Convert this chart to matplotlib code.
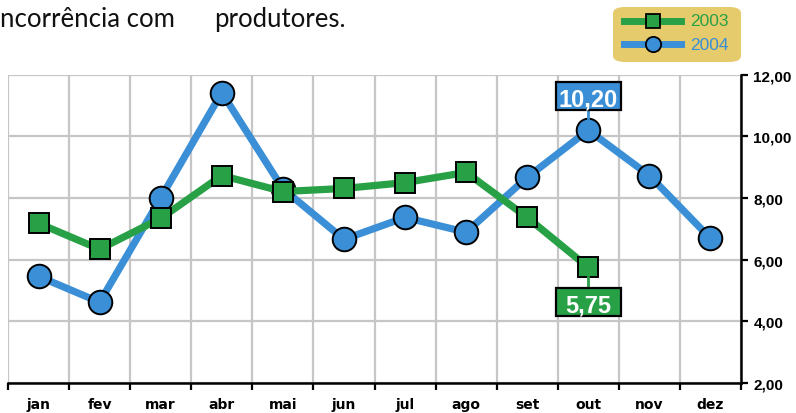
import matplotlib
matplotlib.use("Agg")
import matplotlib.pyplot as plt
import numpy as np
from matplotlib.lines import Line2D
from matplotlib.patches import FancyBboxPatch, Rectangle
from matplotlib.ticker import FixedLocator, FuncFormatter

months = ["jan", "fev", "mar", "abr", "mai", "jun", "jul", "ago", "set", "out", "nov", "dez"]
s2003 = [7.18, 6.34, 7.34, 8.73, 8.21, 8.31, 8.50, 8.83, 7.37, 5.75]
s2004 = [5.46, 4.62, 8.00, 11.42, 8.30, 6.66, 7.37, 6.89, 8.67, 10.20, 8.73, 6.69]
yticks = [2, 4, 6, 8, 10, 12]
labels_series = ["2003", "2004"]

green = "#27a046"
blue = "#3a8fd6"
grid_c = "#c6c6c6"

W, H = 796, 414
fig = plt.figure(figsize=(W/100, H/100), dpi=100)
ax = fig.add_axes([8/W, 1-384/H, (741-8)/W, (384-75.7)/H])

x03 = np.arange(len(s2003))
x04 = np.arange(len(s2004))

ax.plot(x04, s2004, color=blue, lw=5.2, marker="o", ms=17, mfc=blue, mec="black", mew=1.4, zorder=3,
        solid_joinstyle="miter")
ax.plot(x03, s2003, color=green, lw=5.2, marker="s", ms=14, mfc=green, mec="black", mew=1.4, zorder=4,
        solid_joinstyle="miter")

ax.set_xlim(-0.5, 11.5)
ax.set_ylim(2, 12)

# grid
ax.xaxis.set_major_locator(FixedLocator(list(range(12))))
ax.xaxis.set_minor_locator(FixedLocator([i - 0.5 for i in range(13)]))
ax.set_xticklabels(months, fontsize=10, fontweight="bold", family="DejaVu Sans")
ax.tick_params(axis="x", which="major", length=0, pad=10)
ax.tick_params(axis="x", which="minor", length=5, width=1.6, direction="out", color="black")
ax.grid(True, which="minor", axis="x", color=grid_c, lw=1.6, zorder=0)
ax.set_yticks(yticks)
ax.yaxis.set_major_formatter(FuncFormatter(lambda v, p: f"{v:.2f}".replace(".", ",")))
ax.yaxis.tick_right()
ax.tick_params(axis="y", which="major", length=5, width=1.6, direction="out", labelsize=11, pad=4)
for t in ax.get_yticklabels():
    t.set_fontweight("bold")
    t.set_family("Liberation Sans")
ax.grid(True, which="major", axis="y", color=grid_c, lw=1.6, zorder=0)
ax.set_axisbelow(True)

for s in ["top", "left"]:
    ax.spines[s].set_visible(False)
for s in ["bottom", "right"]:
    ax.spines[s].set_linewidth(1.8)
    ax.spines[s].set_color("black")

# value labels in fixed-size boxes
def value_box(xv, yv, col, dy, marker_r):
    px, py = ax.transData.transform((xv, yv))
    bw, bh = 65, 28
    cx, cy = px, py + dy
    if dy > 0:
        y0, y1 = py + marker_r, cy - bh / 2
    else:
        y0, y1 = py - marker_r, cy + bh / 2
    fig.add_artist(Line2D([cx / W, cx / W], [y0 / H, y1 / H], transform=fig.transFigure,
                          color=col, lw=2, zorder=5))
    fig.add_artist(Rectangle(((cx - bw / 2) / W, (cy - bh / 2) / H), bw / W, bh / H,
                             transform=fig.transFigure, fc=col, ec="black", lw=1.6, zorder=6))
    fig.text(cx / W, cy / H, f"{yv:.2f}".replace(".", ","), fontsize=17, fontweight="bold",
             color="white", family="Liberation Sans", ha="center", va="center_baseline", zorder=7)

value_box(9, s2004[9], blue, 34, 12)
value_box(9, s2003[9], green, -35, 10)

# header text
fig.text(0/W, 1-27/H, "ncorrência com", fontsize=18.5, family="Lato", color="#111111", ha="left", va="baseline")
fig.text(214/W, 1-27/H, "produtores.", fontsize=18.5, family="Lato", color="#111111", ha="left", va="baseline")

# legend
box = FancyBboxPatch((613/W, 1-63/H), (741-613)/W, (63-8)/H,
                     boxstyle="round,pad=0,rounding_size=0.015", transform=fig.transFigure,
                     fc="#e5cb6b", ec="none", zorder=1)
fig.patches.append(box)
for i, (lab, col, mk, ms) in enumerate(zip(labels_series, [green, blue], ["s", "o"], [10, 11])):
    yy = 1 - (22 + i * 23) / H
    fig.add_artist(Line2D([624/W, 681/W], [yy, yy], transform=fig.transFigure, color=col, lw=5, zorder=2))
    fig.add_artist(Line2D([653/W], [yy], transform=fig.transFigure, marker=mk, ms=ms, mfc=col, mec="black",
                          mew=1.3, lw=0, zorder=3))
    fig.text(690/W, yy, lab, fontsize=12.5, family="Liberation Sans", color=col, ha="left", va="center")

fig.savefig("out.png", dpi=100)
